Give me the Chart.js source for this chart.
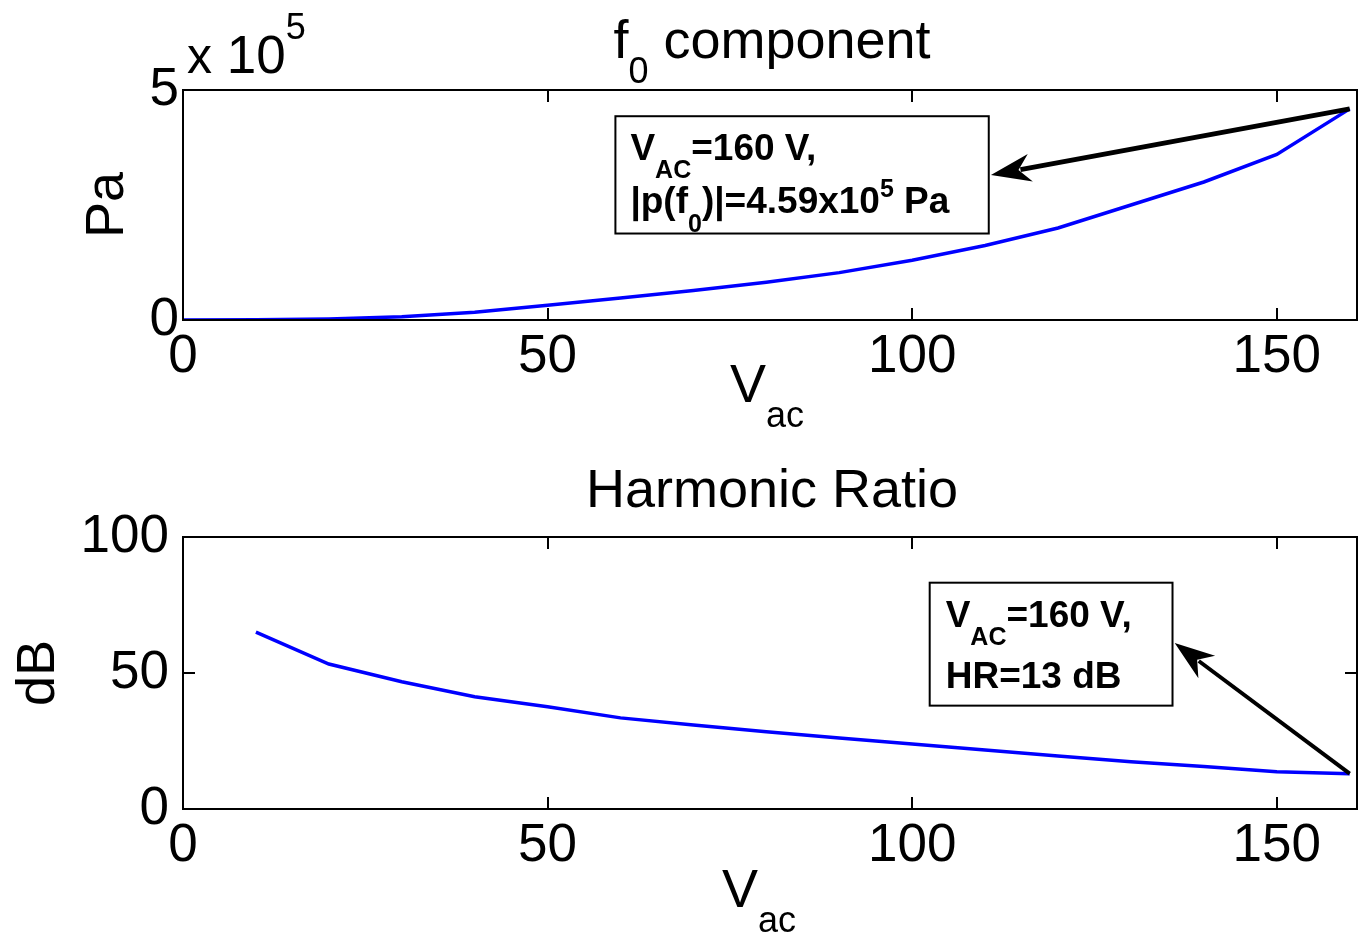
<!DOCTYPE html>
<html>
<head>
<meta charset="utf-8">
<script src="https://cdn.jsdelivr.net/npm/chart.js@4"></script>
<style>
  body { margin: 0; background: #fff; }
  canvas { position: absolute; left: 0; }
</style>
</head>
<body>
<canvas id="top" width="1363" height="440" style="top:0"></canvas>
<canvas id="bottom" width="1363" height="499" style="top:440px"></canvas>
<script>
// data
const vac = [0, 10, 20, 30, 40, 50, 60, 70, 80, 90, 100, 110, 120, 130, 140, 150, 160];
const f0Pa = [0, 500, 2000, 7000, 17000, 32000, 48000, 64000, 82000, 103000, 130000, 162000, 200000, 250000, 300000, 360000, 459000];
const hrVac = [10, 20, 30, 40, 50, 60, 70, 80, 90, 100, 110, 120, 130, 140, 150, 160];
const hrDb = [65, 53.3, 46.8, 41.3, 37.6, 33.5, 30.9, 28.4, 26.1, 23.9, 21.7, 19.5, 17.4, 15.6, 13.7, 13];
const xTicks = [0, 50, 100, 150];
const f0Ticks = [0, 500000];
const hrTicks = [0, 50, 100];

const FONT = '"Liberation Sans", Arial, Helvetica, sans-serif';

function font(size, bold) {
  return (bold ? 'bold ' : '') + size + 'px ' + FONT;
}

// draw a row of text runs (for sub/superscripts); shift is vertical offset
function drawRuns(ctx, x, y, runs, align) {
  let total = 0;
  runs.forEach(r => { ctx.font = font(r.size, r.bold); total += ctx.measureText(r.t).width; });
  let cx = align === 'center' ? x - total / 2 : x;
  ctx.textAlign = 'left';
  ctx.textBaseline = 'alphabetic';
  runs.forEach(r => {
    ctx.font = font(r.size, r.bold);
    ctx.fillText(r.t, cx, y + (r.shift || 0));
    cx += ctx.measureText(r.t).width;
  });
}

function drawArrow(ctx, x1, y1, x2, y2, w) {
  const ang = Math.atan2(y2 - y1, x2 - x1);
  const len = 40, half = 14;
  const c = Math.cos(ang), s = Math.sin(ang);
  const bx = x2 - len * c, by = y2 - len * s;
  ctx.strokeStyle = '#000';
  ctx.lineWidth = w;
  ctx.beginPath();
  ctx.moveTo(x1, y1);
  ctx.lineTo(bx + 10 * c, by + 10 * s);
  ctx.stroke();
  ctx.fillStyle = '#000';
  ctx.beginPath();
  ctx.moveTo(x2, y2);
  ctx.lineTo(bx - half * s, by + half * c);
  ctx.lineTo(bx + 12 * c, by + 12 * s);
  ctx.lineTo(bx + half * s, by - half * c);
  ctx.closePath();
  ctx.fill();
}

const B = true;
const panels = {
  top: {
    title: [{ t: 'f', size: 54 }, { t: '0', size: 36, shift: 25 }, { t: ' component', size: 54 }],
    titleGap: 32,
    vacBase: 82, vacX: -40,
    yLabel: 'Pa', yLabelX: 123, exponent: true,
    note: {
      box: [59.3, 110.5, 4.43e5, 1.88e5],
      pad: 15, firstBase: 44, lineGap: 53,
      lines: [
        [{ t: 'V', size: 37, bold: B }, { t: 'AC', size: 25, bold: B, shift: 18 }, { t: '=160 V,', size: 37, bold: B }],
        [{ t: '|p(f', size: 37, bold: B }, { t: '0', size: 25, bold: B, shift: 19 }, { t: ')|=4.59x10', size: 37, bold: B },
         { t: '5', size: 25, bold: B, shift: -16 }, { t: ' Pa', size: 37, bold: B }]
      ],
      from: [160, 459000], to: [110.8, 3.15e5], width: 5
    }
  },
  bottom: {
    title: [{ t: 'Harmonic Ratio', size: 54 }],
    titleGap: 30,
    vacBase: 98, vacX: -48,
    yLabel: 'dB', yLabelX: 54, exponent: false,
    note: {
      box: [102.4, 135.7, 83.2, 38],
      pad: 16, firstBase: 44, lineGap: 61,
      lines: [
        [{ t: 'V', size: 37, bold: B }, { t: 'AC', size: 25, bold: B, shift: 18 }, { t: '=160 V,', size: 37, bold: B }],
        [{ t: 'HR=13 dB', size: 37, bold: B }]
      ],
      from: [160, 13], to: [136, 61], width: 4
    }
  }
};

// matlab-ish axes box with inward ticks plus the extra texts
const decor = {
  id: 'decor',
  afterDraw(chart) {
    const o = panels[chart.canvas.id];
    const ctx = chart.ctx;
    const a = chart.chartArea;
    const sx = chart.scales.x, sy = chart.scales.y;
    ctx.save();
    ctx.strokeStyle = '#000';
    ctx.lineWidth = 2;
    ctx.strokeRect(a.left, a.top, a.right - a.left, a.bottom - a.top);
    ctx.beginPath();
    sx.ticks.forEach(t => {
      const px = Math.round(sx.getPixelForValue(t.value));
      ctx.moveTo(px, a.bottom); ctx.lineTo(px, a.bottom - 12);
      ctx.moveTo(px, a.top); ctx.lineTo(px, a.top + 12);
    });
    sy.ticks.forEach(t => {
      const py = Math.round(sy.getPixelForValue(t.value));
      ctx.moveTo(a.left, py); ctx.lineTo(a.left + 12, py);
      ctx.moveTo(a.right, py); ctx.lineTo(a.right - 12, py);
    });
    ctx.stroke();

    ctx.fillStyle = '#000';
    const mid = (a.left + a.right) / 2;
    drawRuns(ctx, mid + 2, a.top - o.titleGap, o.title, 'center');
    // x axis label V_ac
    drawRuns(ctx, mid + o.vacX, a.bottom + o.vacBase, [
      { t: 'V', size: 54 }, { t: 'ac', size: 36, shift: 25 }
    ], 'left');
    // y axis label
    ctx.save();
    ctx.translate(o.yLabelX, (a.top + a.bottom) / 2);
    ctx.rotate(-Math.PI / 2);
    ctx.font = font(54);
    ctx.textAlign = 'center';
    ctx.textBaseline = 'alphabetic';
    ctx.fillText(o.yLabel, 0, 0);
    ctx.restore();
    if (o.exponent) {
      drawRuns(ctx, a.left + 4, a.top - 17, [
        { t: 'x', size: 50 }, { t: ' 10', size: 53 }, { t: '5', size: 36, shift: -34 }
      ], 'left');
    }

    // annotation box and arrow
    const n = o.note;
    const bx1 = sx.getPixelForValue(n.box[0]), bx2 = sx.getPixelForValue(n.box[1]);
    const by1 = sy.getPixelForValue(n.box[2]), by2 = sy.getPixelForValue(n.box[3]);
    ctx.fillStyle = '#fff';
    ctx.fillRect(bx1, by1, bx2 - bx1, by2 - by1);
    ctx.lineWidth = 2;
    ctx.strokeRect(bx1, by1, bx2 - bx1, by2 - by1);
    ctx.fillStyle = '#000';
    n.lines.forEach((runs, i) => drawRuns(ctx, bx1 + n.pad, by1 + n.firstBase + i * n.lineGap, runs, 'left'));
    const tx = sx.getPixelForValue(n.from[0]), ty = sy.getPixelForValue(n.from[1]);
    const hx = sx.getPixelForValue(n.to[0]), hy = sy.getPixelForValue(n.to[1]);
    drawArrow(ctx, tx, ty, hx, hy, n.width);
    ctx.restore();
  }
};

function makePanel(id, xs, ys, yMax, yTickVals, tickCb, padTop, bottomH, yPad) {
  return new Chart(document.getElementById(id), {
    type: 'line',
    data: {
      datasets: [{
        data: xs.map((x, i) => ({ x: x, y: ys[i] })),
        borderColor: '#0000ff',
        borderWidth: 3.5,
        pointRadius: 0,
        tension: 0,
        fill: false
      }]
    },
    options: {
      responsive: false,
      animation: false,
      devicePixelRatio: 1,
      layout: { padding: { top: padTop, right: 6, left: 0, bottom: 0 } },
      plugins: { legend: { display: false }, tooltip: { enabled: false } },
      scales: {
        x: {
          type: 'linear', min: 0, max: 161,
          grid: { display: false, drawTicks: false },
          border: { display: false },
          afterBuildTicks: s => { s.ticks = xTicks.map(v => ({ value: v })); },
          afterFit: s => { s.height = bottomH; },
          ticks: { color: '#000', font: { family: FONT, size: 53 }, padding: 6, maxRotation: 0, autoSkip: false }
        },
        y: {
          type: 'linear', min: 0, max: yMax,
          grid: { display: false, drawTicks: false },
          border: { display: false },
          afterBuildTicks: s => { s.ticks = yTickVals.map(v => ({ value: v })); },
          afterFit: s => { s.width = 183; },
          ticks: { color: '#000', font: { family: FONT, size: 53 }, padding: yPad, callback: tickCb }
        }
      }
    },
    plugins: [decor]
  });
}

makePanel('top', vac, f0Pa, 500000, f0Ticks, v => String(v / 100000), 90, 120, 4);
makePanel('bottom', hrVac, hrDb, 100, hrTicks, v => String(v), 97, 130, 14);
</script>
</body>
</html>
